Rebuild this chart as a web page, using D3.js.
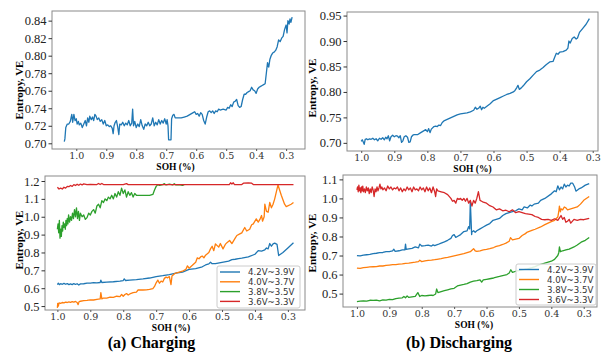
<!DOCTYPE html>
<html>
<head>
<meta charset="utf-8">
<script src="https://cdn.jsdelivr.net/npm/d3@7"></script>
<style>
  body { margin: 0; background: #fff; }
  svg { display: block; }
</style>
</head>
<body>
<svg id="chart" width="602" height="352"></svg>
<script>
// ---- data: [SOH, entropy] ----
const chgTotal = [[1.04,0.702],[1.038,0.705],[1.035,0.718],[1.03,0.722],[1.025,0.722],[1.02,0.725],[1.015,0.733],[1.012,0.724],[1.008,0.733],[1.004,0.726],[1.0,0.728],[0.997,0.722],[0.993,0.725],[0.99,0.721],[0.985,0.723],[0.98,0.718],[0.975,0.722],[0.97,0.726],[0.966,0.72],[0.962,0.729],[0.958,0.724],[0.955,0.731],[0.95,0.727],[0.946,0.73],[0.942,0.726],[0.938,0.733],[0.934,0.731],[0.93,0.727],[0.925,0.729],[0.92,0.725],[0.915,0.727],[0.91,0.722],[0.905,0.726],[0.9,0.72],[0.895,0.721],[0.89,0.719],[0.885,0.72],[0.88,0.717],[0.877,0.711],[0.874,0.72],[0.87,0.724],[0.866,0.726],[0.862,0.719],[0.858,0.71],[0.855,0.722],[0.85,0.721],[0.845,0.724],[0.84,0.72],[0.835,0.723],[0.83,0.721],[0.825,0.726],[0.82,0.72],[0.815,0.723],[0.812,0.739],[0.809,0.72],[0.805,0.725],[0.8,0.718],[0.795,0.722],[0.79,0.719],[0.785,0.727],[0.78,0.72],[0.775,0.716],[0.77,0.722],[0.765,0.72],[0.76,0.724],[0.755,0.72],[0.75,0.722],[0.745,0.729],[0.74,0.72],[0.735,0.724],[0.73,0.721],[0.725,0.727],[0.72,0.722],[0.715,0.726],[0.71,0.723],[0.705,0.728],[0.7,0.722],[0.697,0.727],[0.694,0.72],[0.692,0.704],[0.686,0.704],[0.684,0.704],[0.682,0.728],[0.678,0.732],[0.674,0.733],[0.67,0.729],[0.66,0.729],[0.65,0.729],[0.64,0.73],[0.63,0.731],[0.62,0.733],[0.61,0.735],[0.605,0.736],[0.6,0.733],[0.595,0.734],[0.59,0.731],[0.585,0.735],[0.58,0.733],[0.575,0.726],[0.57,0.722],[0.565,0.73],[0.56,0.736],[0.555,0.737],[0.55,0.735],[0.545,0.737],[0.54,0.734],[0.535,0.737],[0.53,0.736],[0.525,0.739],[0.52,0.738],[0.51,0.739],[0.5,0.738],[0.495,0.741],[0.49,0.74],[0.485,0.744],[0.48,0.742],[0.475,0.747],[0.47,0.748],[0.465,0.75],[0.46,0.743],[0.455,0.741],[0.45,0.742],[0.445,0.75],[0.44,0.756],[0.435,0.756],[0.43,0.758],[0.425,0.759],[0.42,0.76],[0.415,0.764],[0.41,0.761],[0.405,0.76],[0.4,0.757],[0.395,0.762],[0.39,0.764],[0.385,0.765],[0.38,0.766],[0.375,0.767],[0.37,0.768],[0.366,0.78],[0.362,0.792],[0.358,0.787],[0.354,0.796],[0.35,0.8],[0.345,0.803],[0.34,0.804],[0.335,0.806],[0.33,0.81],[0.325,0.818],[0.32,0.816],[0.315,0.82],[0.31,0.822],[0.305,0.83],[0.3,0.835],[0.297,0.826],[0.294,0.84],[0.29,0.836],[0.287,0.842],[0.284,0.838],[0.28,0.844]];

const dchgTotal = [[1.0,0.703],[0.997,0.706],[0.994,0.702],[0.991,0.697],[0.988,0.707],[0.984,0.708],[0.98,0.706],[0.975,0.708],[0.97,0.707],[0.965,0.709],[0.96,0.706],[0.955,0.708],[0.95,0.704],[0.945,0.709],[0.94,0.707],[0.935,0.71],[0.93,0.706],[0.926,0.711],[0.922,0.708],[0.918,0.714],[0.914,0.704],[0.91,0.712],[0.905,0.715],[0.9,0.712],[0.895,0.714],[0.89,0.713],[0.886,0.71],[0.882,0.714],[0.878,0.701],[0.874,0.704],[0.87,0.712],[0.865,0.714],[0.86,0.711],[0.856,0.701],[0.852,0.702],[0.848,0.712],[0.844,0.715],[0.84,0.716],[0.83,0.716],[0.82,0.72],[0.81,0.724],[0.805,0.726],[0.8,0.722],[0.796,0.728],[0.792,0.72],[0.788,0.727],[0.78,0.732],[0.775,0.733],[0.77,0.732],[0.765,0.735],[0.76,0.734],[0.755,0.74],[0.75,0.743],[0.74,0.746],[0.73,0.749],[0.72,0.752],[0.71,0.755],[0.7,0.757],[0.69,0.758],[0.68,0.759],[0.67,0.761],[0.66,0.764],[0.655,0.77],[0.65,0.766],[0.645,0.768],[0.64,0.772],[0.636,0.765],[0.632,0.77],[0.628,0.768],[0.62,0.772],[0.61,0.777],[0.6,0.783],[0.59,0.786],[0.58,0.789],[0.57,0.792],[0.56,0.795],[0.55,0.797],[0.54,0.8],[0.535,0.803],[0.53,0.808],[0.526,0.813],[0.522,0.805],[0.516,0.808],[0.51,0.812],[0.5,0.82],[0.49,0.826],[0.48,0.833],[0.47,0.84],[0.46,0.843],[0.45,0.848],[0.44,0.854],[0.43,0.859],[0.42,0.86],[0.415,0.868],[0.41,0.876],[0.405,0.874],[0.4,0.878],[0.39,0.879],[0.38,0.882],[0.375,0.886],[0.372,0.9],[0.368,0.896],[0.362,0.905],[0.356,0.908],[0.35,0.904],[0.346,0.906],[0.34,0.917],[0.33,0.925],[0.32,0.933],[0.31,0.944]];

// charging, per voltage window
const chg42 = [[1.0,0.62],[0.997,0.628],[0.994,0.62],[0.99,0.625],[0.985,0.622],[0.98,0.627],[0.975,0.622],[0.97,0.626],[0.965,0.62],[0.96,0.624],[0.955,0.62],[0.95,0.626],[0.945,0.621],[0.94,0.625],[0.935,0.618],[0.93,0.624],[0.92,0.625],[0.91,0.628],[0.9,0.628],[0.89,0.631],[0.88,0.63],[0.87,0.632],[0.868,0.645],[0.865,0.632],[0.85,0.634],[0.83,0.636],[0.81,0.64],[0.8,0.643],[0.797,0.652],[0.793,0.643],[0.78,0.645],[0.76,0.648],[0.74,0.652],[0.72,0.657],[0.7,0.665],[0.68,0.67],[0.66,0.676],[0.64,0.685],[0.62,0.69],[0.6,0.705],[0.58,0.71],[0.56,0.72],[0.55,0.73],[0.54,0.736],[0.535,0.745],[0.53,0.737],[0.52,0.738],[0.5,0.745],[0.48,0.752],[0.47,0.76],[0.46,0.762],[0.45,0.766],[0.44,0.768],[0.42,0.775],[0.4,0.79],[0.39,0.81],[0.38,0.808],[0.37,0.815],[0.365,0.825],[0.36,0.82],[0.355,0.85],[0.35,0.835],[0.345,0.848],[0.34,0.852],[0.333,0.845],[0.328,0.783],[0.315,0.8],[0.3,0.825],[0.283,0.854]];
const chg40 = [[1.0,0.49],[0.999,0.515],[0.997,0.5],[0.995,0.518],[0.99,0.515],[0.985,0.52],[0.98,0.518],[0.975,0.522],[0.97,0.52],[0.965,0.523],[0.96,0.521],[0.955,0.525],[0.95,0.522],[0.945,0.526],[0.94,0.52],[0.937,0.508],[0.934,0.525],[0.93,0.527],[0.92,0.53],[0.91,0.532],[0.9,0.535],[0.89,0.534],[0.88,0.538],[0.87,0.54],[0.868,0.575],[0.865,0.54],[0.86,0.545],[0.85,0.544],[0.84,0.55],[0.83,0.549],[0.82,0.555],[0.81,0.553],[0.805,0.565],[0.8,0.555],[0.795,0.565],[0.79,0.57],[0.785,0.562],[0.78,0.568],[0.77,0.575],[0.76,0.578],[0.755,0.59],[0.75,0.59],[0.74,0.59],[0.73,0.591],[0.72,0.593],[0.71,0.598],[0.705,0.61],[0.7,0.63],[0.695,0.645],[0.69,0.628],[0.685,0.64],[0.68,0.635],[0.675,0.655],[0.67,0.662],[0.665,0.658],[0.66,0.665],[0.655,0.62],[0.652,0.668],[0.645,0.68],[0.64,0.685],[0.63,0.69],[0.62,0.695],[0.61,0.705],[0.605,0.725],[0.6,0.712],[0.59,0.728],[0.58,0.745],[0.575,0.77],[0.57,0.765],[0.565,0.775],[0.56,0.78],[0.555,0.77],[0.55,0.785],[0.54,0.8],[0.535,0.82],[0.53,0.835],[0.525,0.81],[0.52,0.848],[0.51,0.83],[0.505,0.85],[0.497,0.82],[0.49,0.845],[0.485,0.855],[0.477,0.867],[0.47,0.85],[0.46,0.88],[0.455,0.895],[0.446,0.904],[0.44,0.91],[0.431,0.94],[0.425,0.92],[0.416,0.93],[0.41,0.955],[0.405,0.96],[0.396,0.988],[0.39,0.97],[0.385,0.985],[0.38,1.007],[0.377,0.975],[0.372,1.0],[0.37,1.07],[0.365,1.03],[0.36,1.025],[0.355,1.08],[0.35,1.05],[0.345,1.07],[0.34,1.1],[0.33,1.178],[0.32,1.12],[0.31,1.07],[0.305,1.057],[0.29,1.07],[0.283,1.08]];
const chg38 = [[1.0,0.93],[0.998,0.96],[0.996,0.91],[0.994,0.98],[0.992,0.88],[0.99,0.93],[0.988,0.89],[0.986,0.95],[0.984,0.92],[0.982,0.97],[0.98,0.94],[0.978,0.96],[0.976,0.93],[0.974,0.98],[0.972,0.95],[0.97,0.99],[0.968,0.96],[0.966,1.01],[0.963,0.97],[0.96,1.0],[0.957,0.98],[0.954,1.02],[0.951,0.99],[0.948,1.04],[0.945,1.0],[0.942,1.05],[0.939,0.99],[0.936,1.03],[0.933,0.98],[0.93,1.02],[0.925,1.0],[0.92,1.01],[0.915,0.985],[0.91,0.995],[0.905,1.02],[0.9,1.01],[0.895,1.03],[0.89,1.04],[0.885,1.02],[0.88,1.06],[0.875,1.07],[0.87,1.05],[0.865,1.09],[0.86,1.08],[0.855,1.1],[0.85,1.09],[0.845,1.11],[0.84,1.1],[0.835,1.12],[0.83,1.1],[0.825,1.13],[0.82,1.11],[0.815,1.14],[0.81,1.12],[0.805,1.16],[0.8,1.13],[0.795,1.15],[0.79,1.11],[0.785,1.14],[0.78,1.12],[0.775,1.135],[0.77,1.11],[0.765,1.13],[0.76,1.12],[0.755,1.12],[0.74,1.12],[0.72,1.12],[0.71,1.125],[0.705,1.15],[0.7,1.17],[0.695,1.18],[0.69,1.175],[0.68,1.18],[0.675,1.185],[0.67,1.178],[0.66,1.182],[0.65,1.178],[0.645,1.185],[0.64,1.178],[0.63,1.18],[0.62,1.175],[0.615,1.18]];
const chg36 = [[1.0,1.165],[0.995,1.155],[0.99,1.16],[0.985,1.155],[0.98,1.165],[0.975,1.16],[0.97,1.17],[0.965,1.168],[0.96,1.175],[0.955,1.17],[0.95,1.18],[0.945,1.175],[0.94,1.182],[0.935,1.176],[0.93,1.183],[0.925,1.178],[0.92,1.184],[0.91,1.18],[0.9,1.181],[0.88,1.18],[0.875,1.186],[0.87,1.18],[0.865,1.186],[0.86,1.18],[0.84,1.18],[0.8,1.18],[0.79,1.185],[0.785,1.18],[0.7,1.18],[0.6,1.18],[0.5,1.18],[0.478,1.18],[0.474,1.19],[0.47,1.183],[0.466,1.19],[0.462,1.18],[0.44,1.18],[0.435,1.188],[0.42,1.19],[0.41,1.188],[0.405,1.18],[0.3,1.18],[0.283,1.18]];

// discharging, per voltage window
const dchg42 = [[1.0,0.7],[0.99,0.698],[0.98,0.702],[0.97,0.704],[0.96,0.706],[0.95,0.71],[0.94,0.712],[0.93,0.715],[0.92,0.716],[0.91,0.72],[0.9,0.72],[0.89,0.724],[0.886,0.733],[0.882,0.722],[0.87,0.725],[0.86,0.73],[0.852,0.73],[0.85,0.76],[0.848,0.732],[0.84,0.735],[0.83,0.738],[0.82,0.745],[0.81,0.74],[0.806,0.76],[0.8,0.75],[0.79,0.752],[0.78,0.755],[0.77,0.75],[0.765,0.756],[0.76,0.752],[0.75,0.758],[0.74,0.765],[0.73,0.772],[0.72,0.78],[0.71,0.79],[0.705,0.805],[0.7,0.81],[0.695,0.795],[0.69,0.8],[0.68,0.81],[0.67,0.826],[0.66,0.83],[0.655,0.852],[0.652,0.84],[0.65,0.984],[0.648,0.9],[0.646,0.81],[0.645,0.824],[0.64,0.83],[0.635,0.822],[0.63,0.83],[0.62,0.84],[0.61,0.85],[0.6,0.86],[0.59,0.868],[0.58,0.885],[0.57,0.89],[0.56,0.895],[0.55,0.91],[0.54,0.92],[0.53,0.925],[0.52,0.93],[0.51,0.935],[0.5,0.945],[0.49,0.94],[0.484,0.955],[0.474,0.95],[0.465,0.965],[0.46,0.96],[0.453,0.97],[0.44,0.975],[0.433,0.99],[0.42,1.0],[0.4,1.024],[0.39,1.04],[0.385,1.035],[0.38,1.066],[0.375,1.045],[0.37,1.06],[0.365,1.05],[0.36,1.075],[0.355,1.06],[0.35,1.07],[0.345,1.065],[0.34,1.08],[0.334,1.08],[0.328,1.06],[0.324,1.038],[0.315,1.05],[0.308,1.055],[0.295,1.07],[0.283,1.078]];
const dchg40 = [[1.0,0.634],[0.99,0.632],[0.98,0.636],[0.97,0.638],[0.96,0.64],[0.95,0.641],[0.94,0.642],[0.93,0.645],[0.92,0.645],[0.91,0.648],[0.9,0.65],[0.89,0.652],[0.88,0.652],[0.87,0.655],[0.86,0.656],[0.85,0.659],[0.84,0.66],[0.83,0.663],[0.82,0.665],[0.81,0.668],[0.806,0.675],[0.8,0.668],[0.79,0.672],[0.78,0.675],[0.77,0.676],[0.76,0.678],[0.753,0.68],[0.74,0.684],[0.73,0.688],[0.72,0.69],[0.71,0.694],[0.7,0.698],[0.69,0.702],[0.68,0.706],[0.67,0.71],[0.66,0.715],[0.65,0.72],[0.645,0.728],[0.64,0.736],[0.635,0.725],[0.63,0.722],[0.62,0.725],[0.61,0.73],[0.6,0.732],[0.59,0.736],[0.578,0.742],[0.57,0.748],[0.56,0.752],[0.55,0.758],[0.54,0.765],[0.53,0.775],[0.526,0.794],[0.52,0.782],[0.51,0.786],[0.5,0.79],[0.49,0.805],[0.48,0.815],[0.474,0.823],[0.46,0.832],[0.45,0.838],[0.433,0.85],[0.42,0.862],[0.41,0.87],[0.4,0.878],[0.39,0.885],[0.38,0.902],[0.377,0.93],[0.375,0.96],[0.372,0.93],[0.37,0.945],[0.365,0.94],[0.36,0.955],[0.355,0.95],[0.35,0.94],[0.34,0.945],[0.33,0.95],[0.32,0.955],[0.31,0.97],[0.3,0.99],[0.283,1.01]];
const dchg38 = [[1.0,0.458],[0.99,0.46],[0.98,0.462],[0.97,0.46],[0.96,0.465],[0.95,0.464],[0.94,0.466],[0.93,0.462],[0.92,0.467],[0.91,0.466],[0.9,0.47],[0.89,0.468],[0.88,0.474],[0.87,0.476],[0.86,0.478],[0.855,0.485],[0.85,0.478],[0.845,0.488],[0.84,0.48],[0.83,0.483],[0.82,0.485],[0.812,0.505],[0.806,0.485],[0.8,0.49],[0.79,0.488],[0.78,0.49],[0.77,0.492],[0.765,0.49],[0.757,0.498],[0.754,0.524],[0.75,0.505],[0.74,0.51],[0.73,0.515],[0.72,0.52],[0.71,0.525],[0.7,0.528],[0.69,0.54],[0.68,0.545],[0.67,0.548],[0.66,0.552],[0.65,0.56],[0.64,0.565],[0.63,0.568],[0.62,0.572],[0.615,0.56],[0.61,0.572],[0.6,0.575],[0.59,0.578],[0.578,0.582],[0.56,0.59],[0.55,0.595],[0.537,0.6],[0.53,0.608],[0.525,0.625],[0.52,0.612],[0.505,0.62],[0.49,0.625],[0.474,0.63],[0.46,0.636],[0.45,0.642],[0.44,0.65],[0.43,0.655],[0.42,0.66],[0.4,0.67],[0.39,0.68],[0.38,0.7],[0.377,0.715],[0.375,0.745],[0.372,0.72],[0.365,0.725],[0.355,0.73],[0.345,0.734],[0.33,0.745],[0.32,0.755],[0.308,0.77],[0.295,0.78],[0.283,0.795]];
const dchg36 = [[1.0,1.045],[0.998,1.06],[0.996,1.035],[0.994,1.07],[0.992,1.04],[0.99,1.055],[0.988,1.03],[0.986,1.06],[0.984,1.04],[0.982,1.065],[0.98,1.035],[0.977,1.05],[0.974,1.03],[0.971,1.06],[0.968,1.04],[0.965,1.055],[0.962,1.025],[0.959,1.05],[0.956,1.03],[0.953,1.06],[0.95,1.045],[0.947,1.01],[0.944,1.05],[0.941,1.035],[0.938,1.06],[0.935,1.04],[0.932,1.055],[0.929,1.075],[0.926,1.05],[0.923,1.06],[0.92,1.045],[0.915,1.055],[0.91,1.04],[0.905,1.065],[0.9,1.05],[0.895,1.06],[0.89,1.045],[0.885,1.055],[0.88,1.05],[0.875,1.06],[0.87,1.04],[0.865,1.055],[0.86,1.035],[0.855,1.05],[0.85,1.04],[0.845,1.06],[0.84,1.045],[0.835,1.055],[0.83,1.035],[0.825,1.06],[0.82,1.045],[0.815,1.05],[0.81,1.04],[0.805,1.06],[0.8,1.045],[0.795,1.055],[0.79,1.035],[0.785,1.06],[0.78,1.04],[0.775,1.055],[0.77,1.03],[0.765,1.06],[0.76,1.035],[0.757,1.01],[0.754,1.05],[0.75,1.04],[0.74,1.035],[0.73,1.03],[0.72,1.02],[0.71,1.0],[0.705,0.985],[0.7,0.99],[0.695,0.975],[0.69,1.0],[0.685,0.995],[0.68,1.0],[0.675,0.99],[0.67,1.0],[0.665,0.985],[0.66,1.0],[0.655,0.975],[0.65,0.99],[0.645,0.96],[0.64,0.99],[0.635,0.975],[0.63,1.0],[0.625,1.035],[0.62,0.99],[0.615,0.985],[0.61,0.98],[0.6,0.975],[0.59,0.962],[0.58,0.955],[0.57,0.94],[0.56,0.945],[0.55,0.935],[0.54,0.938],[0.53,0.93],[0.52,0.94],[0.51,0.925],[0.5,0.93],[0.49,0.925],[0.48,0.92],[0.47,0.918],[0.46,0.915],[0.45,0.905],[0.44,0.9],[0.43,0.89],[0.42,0.888],[0.41,0.89],[0.4,0.885],[0.39,0.893],[0.38,0.885],[0.37,0.91],[0.365,0.89],[0.36,0.9],[0.355,0.875],[0.35,0.88],[0.345,0.89],[0.34,0.87],[0.33,0.89],[0.32,0.885],[0.31,0.89],[0.3,0.888],[0.283,0.895]];

// tick labels
const sohTicks = [1.0, 0.9, 0.8, 0.7, 0.6, 0.5, 0.4, 0.3];
const ticksChgTotal = [0.70, 0.72, 0.74, 0.76, 0.78, 0.80, 0.82, 0.84];
const ticksDchgTotal = [0.70, 0.75, 0.80, 0.85, 0.90, 0.95];
const ticksChgWin = [0.5, 0.6, 0.7, 0.8, 0.9, 1.0, 1.1, 1.2];
const ticksDchgWin = [0.5, 0.6, 0.7, 0.8, 0.9, 1.0, 1.1];
const windowLabels = ["4.2V~3.9V", "4.0V~3.7V", "3.8V~3.5V", "3.6V~3.3V"];
const colors = ["#1f77b4", "#ff7f0e", "#2ca02c", "#d62728"];

const svg = d3.select("#chart");
const serif = "'Liberation Serif','Times New Roman',serif";

function drawPanel(p) {
  const x = d3.scaleLinear().domain(p.xDom).range([p.left, p.right]);
  const y = d3.scaleLinear().domain(p.yDom).range([p.bottom, p.top]);
  const g = svg.append("g");

  const line = d3.line().x(d => x(d[0])).y(d => y(d[1]));
  p.series.forEach((s, i) => {
    g.append("path")
      .datum(s)
      .attr("d", line)
      .attr("fill", "none")
      .attr("stroke", colors[i])
      .attr("stroke-width", 1.3)
      .attr("stroke-linejoin", "round");
  });

  // frame
  g.append("rect")
    .attr("x", p.left).attr("y", p.top)
    .attr("width", p.right - p.left).attr("height", p.bottom - p.top)
    .attr("fill", "none").attr("stroke", "#8a8a8a").attr("stroke-width", 1);

  const yAxis = g.append("g")
    .attr("transform", "translate(" + p.left + ",0)")
    .call(d3.axisLeft(y).tickValues(p.yTicks).tickFormat(d3.format(p.yFmt)).tickSize(3.5).tickPadding(2));
  yAxis.select(".domain").remove();
  yAxis.selectAll("line").attr("stroke", "#333");
  yAxis.selectAll("text").attr("font-family", serif).attr("font-size", 12.5).attr("fill", "#222");

  const xAxis = g.append("g")
    .attr("transform", "translate(0," + p.bottom + ")")
    .call(d3.axisBottom(x).tickValues(sohTicks).tickFormat(d3.format(".1f")).tickSize(2).tickPadding(1.5));
  xAxis.select(".domain").remove();
  xAxis.selectAll("line").attr("stroke", "#555");
  xAxis.selectAll("text").attr("font-family", "'DejaVu Serif',serif").attr("font-size", 9.5).attr("fill", "#333");

  g.append("text")
    .attr("x", (p.left + p.right) / 2 + p.xlabDx).attr("y", p.bottom + 21)
    .attr("text-anchor", "middle")
    .attr("font-family", serif).attr("font-size", 9.5).attr("font-weight", "bold")
    .text("SOH (%)");

  g.append("text")
    .attr("transform", "translate(" + p.ylabX + "," + p.ylabY + ") rotate(-90)")
    .attr("text-anchor", "middle")
    .attr("font-family", serif).attr("font-size", 11).attr("font-weight", "bold")
    .text("Entropy, VE");

  if (p.legend) {
    const L = p.legend;
    const lg = g.append("g");
    lg.append("rect")
      .attr("x", L.x).attr("y", L.y).attr("width", L.w).attr("height", L.h)
      .attr("rx", 2).attr("fill", "#fff").attr("fill-opacity", 0.85)
      .attr("stroke", "#ccc").attr("stroke-width", 1);
    windowLabels.forEach((lab, i) => {
      const ry = L.y + L.first + i * L.step;
      lg.append("line")
        .attr("x1", L.x + 3).attr("x2", L.x + 23).attr("y1", ry).attr("y2", ry)
        .attr("stroke", colors[i]).attr("stroke-width", 1.4);
      lg.append("text")
        .attr("x", L.x + 31).attr("y", ry + 3.2)
        .attr("font-family", "'DejaVu Sans',sans-serif").attr("font-size", 8.6).attr("fill", "#333")
        .text(lab);
    });
  }
}

drawPanel({
  left: 52, right: 305, top: 11, bottom: 149,
  xDom: [1.081, 0.237], yDom: [0.6935, 0.851],
  series: [chgTotal], yTicks: ticksChgTotal, yFmt: ".2f",
  xlabDx: -3, ylabX: 23, ylabY: 90
});
drawPanel({
  left: 347, right: 598, top: 12, bottom: 151,
  xDom: [1.043, 0.284], yDom: [0.684, 0.957],
  series: [dchgTotal], yTicks: ticksDchgTotal, yFmt: ".2f",
  xlabDx: 0, ylabX: 316, ylabY: 88
});
drawPanel({
  left: 45, right: 305, top: 176, bottom: 310,
  xDom: [1.0376, 0.248], yDom: [0.478, 1.228],
  series: [chg42, chg40, chg38, chg36], yTicks: ticksChgWin, yFmt: ".1f",
  xlabDx: -4, ylabX: 23, ylabY: 240,
  legend: { x: 217, y: 266, w: 83, h: 42, first: 6, step: 9.8 }
});
drawPanel({
  left: 343, right: 597, top: 175, bottom: 307,
  xDom: [1.043, 0.259], yDom: [0.4296, 1.123],
  series: [dchg42, dchg40, dchg38, dchg36], yTicks: ticksDchgWin, yFmt: ".1f",
  xlabDx: 4, ylabX: 316, ylabY: 243,
  legend: { x: 516, y: 264, w: 80, h: 41, first: 5.5, step: 10 }
});

svg.append("text")
  .attr("x", 151.5).attr("y", 348)
  .attr("text-anchor", "middle")
  .attr("font-family", serif).attr("font-size", 16).attr("font-weight", "bold")
  .text("(a) Charging");
svg.append("text")
  .attr("x", 459).attr("y", 348)
  .attr("text-anchor", "middle")
  .attr("font-family", serif).attr("font-size", 16).attr("font-weight", "bold")
  .text("(b) Discharging");
</script>
</body>
</html>
